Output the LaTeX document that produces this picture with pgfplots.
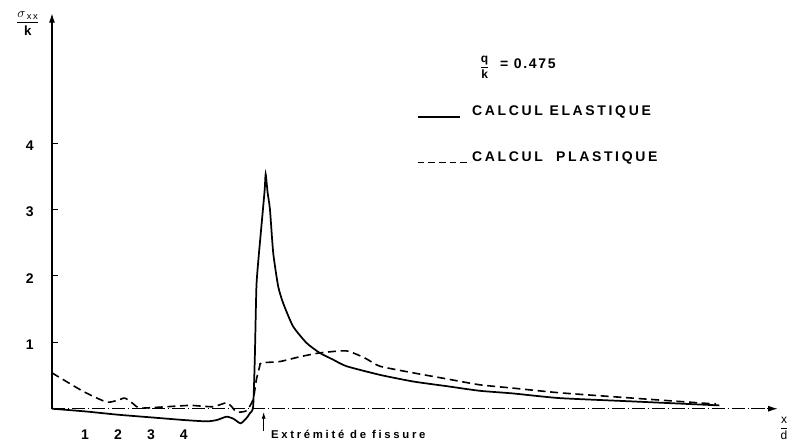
\documentclass[border=0pt]{standalone}
\usepackage{pgfplots}
\pgfplotsset{compat=1.18}
\usepackage{fontspec}
\setmainfont{Liberation Sans}
\usetikzlibrary{arrows.meta}
\newfontfamily\spaced[LetterSpace=19]{Liberation Sans}
\newfontfamily\spacedsmall[LetterSpace=24]{Liberation Sans}
\newfontfamily\spacednum[LetterSpace=12]{Liberation Sans}

\pgfplotstableread{
x y
0 0.00
1 -0.04
2 -0.09
3 -0.13
4 -0.17
4.69 -0.19
5.0 -0.17
5.29 -0.12
5.5 -0.15
5.72 -0.22
5.9 -0.14
6.0 -0.07
6.1 0.03
6.15 0.74
6.20 1.84
6.27 2.30
6.35 2.74
6.45 3.29
6.48 3.53
6.54 3.25
6.61 3.00
6.71 2.34
6.86 1.84
7.01 1.59
7.31 1.24
7.72 0.99
8.12 0.84
8.52 0.74
8.93 0.64
9.94 0.51
10.95 0.41
11.96 0.34
12.97 0.27
13.98 0.23
15.39 0.16
17.6 0.11
20.24 0.05
}\elastique

\pgfplotstableread{
x y
0 0.54
0.95 0.26
1.66 0.10
2.0 0.13
2.21 0.16
2.45 0.08
2.67 0.01
3.47 0.03
4.2 0.05
4.88 0.03
5.29 0.09
5.45 0.03
5.6 -0.05
5.9 -0.03
6.1 0.14
6.2 0.44
6.3 0.64
6.35 0.69
6.91 0.71
7.5 0.78
8.12 0.84
8.93 0.87
9.5 0.76
9.94 0.64
10.95 0.54
11.96 0.45
12.97 0.36
13.98 0.31
15.39 0.24
17.6 0.16
20.14 0.07
}\plastique

\begin{document}
\begin{tikzpicture}
\begin{axis}[
  scale only axis,
  width=591.75pt, height=336pt,
  xmin=-1.5758, xmax=22.3333, ymin=-0.5865, ymax=6.1504,
  axis line style={draw=none},
  xtick=\empty, ytick=\empty,
  clip=false,
]
% axes
\draw[line width=0.9pt, -{Latex[length=7pt,width=4.5pt]}] (axis cs:0,0) -- (axis cs:0,5.95);
\draw[line width=0.6pt, dash pattern=on 10pt off 2pt on 1pt off 2pt, -{Latex[length=7pt,width=4.5pt]}] (axis cs:0,0) -- (axis cs:22.0,0);
\draw[line width=0.6pt] (axis cs:0,1) -- (axis cs:0.18,1);
\draw[line width=0.6pt] (axis cs:0,2) -- (axis cs:0.18,2);
\draw[line width=0.6pt] (axis cs:0,3) -- (axis cs:0.18,3);
\draw[line width=0.6pt] (axis cs:0,4) -- (axis cs:0.18,4);
\node[font=\fontsize{10.5}{12}\selectfont\bfseries] at (axis cs:-0.67,0.96) {1};
\node[font=\fontsize{10.5}{12}\selectfont\bfseries] at (axis cs:-0.67,1.96) {2};
\node[font=\fontsize{10.5}{12}\selectfont\bfseries] at (axis cs:-0.67,2.96) {3};
\node[font=\fontsize{10.5}{12}\selectfont\bfseries] at (axis cs:-0.67,3.96) {4};
\node[font=\fontsize{10.5}{12}\selectfont\bfseries] at (axis cs:1,-0.39) {1};
\node[font=\fontsize{10.5}{12}\selectfont\bfseries] at (axis cs:2,-0.39) {2};
\node[font=\fontsize{10.5}{12}\selectfont\bfseries] at (axis cs:3,-0.39) {3};
\node[font=\fontsize{10.5}{12}\selectfont\bfseries] at (axis cs:4,-0.39) {4};
\node[font=\fontsize{10}{11}\selectfont, inner sep=0pt] at (axis cs:-0.73,5.80) {$\displaystyle\frac{\sigma_{\,\mbox{\scriptsize x\,x}}}{\mbox{\bfseries k}}$};
\node[font=\fontsize{9}{10}\selectfont, inner sep=0pt] at (axis cs:22.2,-0.29) {$\displaystyle\frac{\mbox{x}}{\mbox{d}}$};

% curves
\addplot[black, line width=1.3pt, smooth, tension=0.35] table[x=x,y=y] {\elastique};
\addplot[black, line width=1.2pt, dash pattern=on 6pt off 3.5pt, smooth, tension=0.35] table[x=x,y=y] {\plastique};

% crack tip
\draw[line width=0.6pt, -{Latex[length=5pt,width=3pt]}] (axis cs:6.42,-0.33) -- (axis cs:6.42,-0.05);
\node[anchor=west, font=\spacedsmall\fontsize{8.5}{10}\selectfont\bfseries] at (axis cs:6.5,-0.38) {Extrémité de fissure};

% legend
\node[font=\fontsize{9}{10}\selectfont, inner sep=0pt] at (axis cs:13.12,5.14) {$\displaystyle\frac{\mbox{\bfseries q}}{\mbox{\bfseries k}}$};
\node[anchor=west, font=\spacednum\fontsize{10.5}{12}\selectfont\bfseries] at (axis cs:13.45,5.19) {= 0.475};
\draw[line width=1pt] (axis cs:11.09,4.39) -- (axis cs:12.36,4.39);
\node[anchor=west, font=\spaced\fontsize{10.5}{12}\selectfont\bfseries] at (axis cs:12.6,4.47) {CALCUL ELASTIQUE};
\draw[line width=1pt, dash pattern=on 5pt off 3pt] (axis cs:11.09,3.71) -- (axis cs:12.6,3.71);
\node[anchor=west, font=\spaced\fontsize{10.5}{12}\selectfont\bfseries] at (axis cs:12.6,3.78) {CALCUL\ \ PLASTIQUE};
\end{axis}
\end{tikzpicture}
\end{document}
